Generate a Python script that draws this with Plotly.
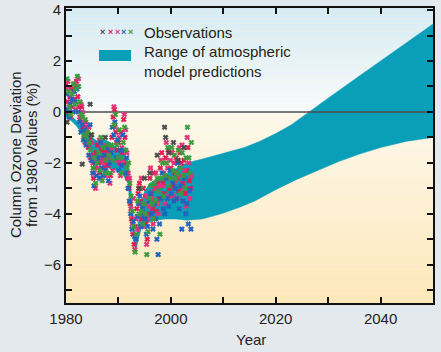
import plotly.graph_objects as go

# ---------------- data ----------------
years_axis = [1980, 1990, 2000, 2010, 2020, 2030, 2040, 2050]
years_labels = ["1980", "", "2000", "", "2020", "", "2040", ""]
y_ticks = [-7, -6, -5, -4, -3, -2, -1, 0, 1, 2, 3, 4]
y_labels = ["", "\u22126", "", "\u22124", "", "\u22122", "", "0", "", "2", "", "4"]

# model prediction range (upper / lower edges)
band_upper_years = [1980, 1981, 1982, 1983, 1984, 1985, 1986, 1987, 1988, 1989, 1990, 1991,
                    1991.8, 1992.4, 1993.0, 1993.3, 1993.6, 1994.2, 1995, 1996, 1998, 2000,
                    2002, 2003, 2006, 2010, 2014, 2017, 2020, 2023, 2026.3, 2030, 2035, 2040,
                    2045, 2050]
band_upper = [0.05, -0.15, -0.35, -0.6, -0.85, -1.0, -1.15, -1.05, -1.15, -1.3, -1.45, -1.6,
              -2.0, -3.0, -4.6, -5.3, -4.6, -3.7, -3.1, -2.8, -2.55, -2.35,
              -2.1, -2.0, -1.85, -1.62, -1.4, -1.15, -0.85, -0.5, 0.0, 0.54, 1.27, 2.0,
              2.72, 3.45]
band_lower_years = [1980, 1981, 1982, 1983, 1984, 1985, 1986, 1987, 1988, 1989, 1990, 1991,
                    1991.8, 1992.5, 1993.0, 1993.3, 1993.7, 1994.3, 1995.5, 1997, 1999, 2001,
                    2003, 2006, 2009.6, 2013, 2016, 2020, 2024, 2028, 2032, 2036, 2040, 2045,
                    2050]
band_lower = [-0.2, -0.35, -0.55, -0.85, -1.25, -1.7, -2.0, -2.1, -2.2, -2.25, -2.35, -2.5,
              -2.8, -4.2, -5.2, -5.45, -5.1, -4.6, -4.35, -4.25, -4.2, -4.2,
              -4.25, -4.2, -4.0, -3.75, -3.5, -3.05, -2.65, -2.3, -1.95, -1.65, -1.4, -1.15,
              -1.0]

# observations: quarterly values 1980.0 ... 2003.75 (4 per year)
obs_start_year = 1980
obs_red = [
    1.1, 0.4, 0.0, 0.6,   0.9, 0.2, 0.5, 1.0,   1.2, 0.6, 0.2, -0.3,  0.2, -0.6, -1.0, -0.4,
    -0.6, -1.4, -1.0, -1.7,  -1.9, -2.6, -2.2, -1.6,  -1.3, -2.0, -2.4, -1.5,  -1.8, -2.2, -1.5, -2.0,
    -2.1, -1.6, -2.5, -1.0,  -0.2, 0.1, -0.8, -1.5,  -1.2, -2.0, -0.8, -1.6,  -0.3, -1.0, -2.0, -2.6,
    -3.0, -3.6, -4.2, -4.8,  -5.2, -4.5, -3.8, -3.2,  -2.8, -3.5, -4.2, -3.0,  -3.6, -4.4, -5.0, -4.0,
    -2.6, -3.2, -3.8, -2.4,  -3.0, -3.9, -2.8, -3.4,  -2.2, -1.6, -2.8, -3.2,  -1.8, -2.6, -1.5, -3.0,
    -2.2, -1.6, -2.9, -2.4,  -1.8, -2.6, -3.1, -1.6,  -2.0, -2.8, -1.9, -3.2,  -2.3, -1.4, -2.7, -3.0,
]
obs_pink = [
    0.9, 1.2, 0.3, -0.2,  0.4, 0.8, 1.1, 0.1,  1.0, 1.3, -0.2, 0.3,  0.0, -0.4, -1.2, -0.8,
    -1.3, -0.6, -1.8, -1.2,  -2.0, -2.4, -3.0, -1.8,  -2.2, -1.1, -2.6, -1.9,  -2.0, -1.3, -2.5, -1.7,
    -1.9, -2.8, -1.4, -2.3,  0.2, -0.6, -1.2, -1.9,  -1.0, -2.5, -1.4, -1.9,  -0.1, -0.7, -1.6, -2.4,
    -2.6, -3.8, -4.4, -3.4,  -5.4, -4.2, -4.6, -3.0,  -3.6, -2.6, -4.0, -4.5,  -3.3, -5.2, -4.2, -3.7,
    -2.2, -3.4, -4.4, -3.0,  -2.4, -3.6, -4.0, -2.9,  -1.9, -2.9, -2.4, -3.6,  -1.2, -2.2, -3.3, -1.9,
    -1.6, -3.3, -2.0, -2.7,  -2.0, -3.4, -1.4, -2.5,  -1.3, -3.0, -2.3, -3.7,  -1.0, -2.0, -3.4, -2.5,
]
obs_blue = [
    0.7, 0.1, -0.2, 0.3,  0.5, 0.0, 0.8, 0.4,  0.9, 0.0, -0.4, -0.8,  -0.5, -1.1, -0.7, -1.3,
    -1.1, -1.7, -0.5, -1.9,  -2.4, -2.9, -2.0, -2.5,  -1.8, -2.6, -1.2, -2.2,  -2.5, -1.7, -2.3, -1.4,
    -2.7, -2.0, -1.6, -0.6,  -0.9, -0.4, -1.8, -1.1,  -2.3, -1.5, -2.1, -0.9,  -1.5, -2.4, -1.8, -3.0,
    -3.5, -4.0, -4.6, -4.3,  -4.9, -5.0, -4.1, -3.6,  -3.3, -4.5, -3.8, -4.1,  -4.2, -4.8, -4.5, -3.5,
    -3.2, -4.0, -4.6, -3.6,  -4.2, -5.0, -5.6, -4.4,  -3.4, -2.4, -3.8, -4.0,  -2.6, -3.4, -3.7, -2.3,
    -3.2, -2.8, -3.5, -3.0,  -3.4, -2.0, -3.8, -2.9,  -4.6, -3.5, -2.6, -4.0,  -3.6, -4.4, -3.1, -4.6,
]
obs_green = [
    1.3, 0.8, 0.2, -0.1,  0.7, 1.1, 0.3, 0.9,  1.4, 1.0, 0.4, -0.1,  -0.2, -0.9, -0.3, -1.0,
    -0.8, -1.2, -1.5, -0.9,  -2.2, -1.8, -2.8, -2.0,  -1.6, -2.3, -1.0, -2.7,  -1.4, -2.4, -1.9, -1.3,
    -1.7, -2.4, -1.3, -1.9,  -0.5, -0.1, -1.3, -1.8,  -0.7, -1.8, -2.4, -1.2,  -0.6, -1.5, -2.2, -2.0,
    -2.8, -3.3, -3.9, -4.5,  -5.5, -4.8, -3.5, -4.0,  -3.0, -3.9, -4.4, -3.6,  -4.0, -5.6, -4.7, -3.4,
    -2.9, -3.6, -4.2, -2.8,  -3.5, -2.6, -3.1, -4.8,  -2.6, -2.0, -3.3, -2.5,  -2.0, -1.4, -2.9, -2.6,
    -1.4, -2.3, -1.7, -2.6,  -2.4, -1.5, -2.2, -3.2,  -1.6, -2.5, -3.0, -1.8,  -0.6, -1.8, -2.4, -1.2,
]
obs_gray_years = [1980.2, 1983.1, 1984.6, 1984.8, 1987.5, 1993.9, 1995.0, 1996.0, 1997.4,
                  1998.8, 1999.0, 1999.6, 2000.5, 2001.4, 2002.5]
obs_gray = [-0.4, -2.05, 0.3, -0.9, -1.0, -3.0, -2.6, -2.4, -1.7,
            -0.6, -1.0, -1.6, -1.2, -1.9, -1.4]

# ---------------- styling ----------------
FONT = "Liberation Sans, Arial, sans-serif"
TXT = "#231f20"
BAND = "#0a9fb8"
RED, PINK, BLUE, GREEN, GRAY = "#e01a52", "#e4307a", "#1f62bf", "#3a9b3c", "#4a4a4a"
Y0, Y1 = -7.5, 4.08


def obs_times(n, month_offset):
    return [obs_start_year + (3 * i + month_offset) / 12.0 for i in range(n)]


fig = go.Figure()

# model range band
fig.add_trace(go.Scatter(
    x=band_upper_years + band_lower_years[::-1],
    y=band_upper + band_lower[::-1],
    fill="toself", fillcolor=BAND, mode="lines",
    line=dict(color=BAND, width=0.5), hoverinfo="skip", showlegend=False))

# zero reference line
fig.add_trace(go.Scatter(x=[years_axis[0], years_axis[-1]], y=[0, 0], mode="lines",
                         line=dict(color="#4d4d4d", width=1.6), showlegend=False,
                         hoverinfo="skip"))

for vals, col, off in [(obs_red, RED, 0), (obs_pink, PINK, 1.5), (obs_blue, BLUE, 1),
                       (obs_green, GREEN, 2)]:
    fig.add_trace(go.Scatter(
        x=obs_times(len(vals), off), y=vals, mode="markers",
        marker=dict(symbol="x", size=4.5, color=col, line=dict(width=0.7, color=col)),
        showlegend=False))
fig.add_trace(go.Scatter(
    x=obs_gray_years, y=obs_gray, mode="markers",
    marker=dict(symbol="x", size=4.5, color=GRAY, line=dict(width=0.7, color=GRAY)),
    showlegend=False))


# background gradient (style only)
def lerp(c1, c2, t):
    a = [int(c1[i:i + 2], 16) for i in (1, 3, 5)]
    b = [int(c2[i:i + 2], 16) for i in (1, 3, 5)]
    return "#%02x%02x%02x" % tuple(round(a[k] + (b[k] - a[k]) * t) for k in range(3))


shapes = []
N = 40
for i in range(N):
    ya = 0 + (Y1 - 0) * i / N
    yb = 0 + (Y1 - 0) * (i + 1) / N
    shapes.append(dict(type="rect", xref="paper", yref="y", x0=0, x1=1, y0=ya, y1=yb,
                       fillcolor=lerp("#f8fbfc", "#d4ebf4", (i + 0.5) / N),
                       line=dict(width=0), layer="below"))
for i in range(N):
    ya = 0 + (Y0 - 0) * i / N
    yb = 0 + (Y0 - 0) * (i + 1) / N
    shapes.append(dict(type="rect", xref="paper", yref="y", x0=0, x1=1, y0=ya, y1=yb,
                       fillcolor=lerp("#fdf9ec", "#fde7b8", (i + 0.5) / N),
                       line=dict(width=0), layer="below"))
# legend swatch for band
shapes.append(dict(type="rect", xref="paper", yref="paper", x0=0.0899, x1=0.1771,
                   y0=0.8203, y1=0.8576, fillcolor=BAND, line=dict(width=0)))

annotations = []
for xp, col in [(0.1008, GRAY), (0.1199, RED), (0.139, PINK), (0.1567, BLUE), (0.1744, GREEN)]:
    annotations.append(dict(xref="paper", yref="paper", x=xp, y=0.9186, text="<b>\u00d7</b>",
                            showarrow=False, font=dict(family=FONT, size=9, color=col),
                            xanchor="center", yanchor="middle"))
annotations += [
    dict(xref="paper", yref="paper", x=0.2071, y=0.9186, text="Observations",
         showarrow=False, xanchor="left", yanchor="middle",
         font=dict(family=FONT, size=15, color=TXT)),
    dict(xref="paper", yref="paper", x=0.2071, y=0.8200,
         text="Range of atmospheric<br>model predictions", align="left",
         showarrow=False, xanchor="left", yanchor="middle",
         font=dict(family=FONT, size=15, color=TXT)),
    dict(xref="paper", yref="paper", x=-0.136, y=0.5017, text="Column Ozone Deviation",
         textangle=-90, showarrow=False, xanchor="center", yanchor="middle",
         font=dict(family=FONT, size=15, color=TXT)),
    dict(xref="paper", yref="paper", x=-0.0925, y=0.5017, text="from 1980 Values (%)",
         textangle=-90, showarrow=False, xanchor="center", yanchor="middle",
         font=dict(family=FONT, size=15, color=TXT)),
    dict(xref="paper", yref="paper", x=0.504, y=-0.1254, text="Year",
         showarrow=False, xanchor="center", yanchor="middle",
         font=dict(family=FONT, size=15, color=TXT)),
]

fig.update_layout(
    width=441, height=352,
    margin=dict(l=66, r=8, t=8, b=49, autoexpand=False),
    paper_bgcolor="#e3e9ed", plot_bgcolor="#fdf3d6",
    shapes=shapes, annotations=annotations,
    showlegend=False,
    font=dict(family=FONT, size=15, color=TXT),
)
fig.update_xaxes(range=[1980, 2050], tickvals=years_axis, ticktext=years_labels,
                 ticks="inside", ticklen=6, tickwidth=1.5, tickcolor="#111",
                 showline=True, linecolor="#111", linewidth=2, mirror="ticks",
                 showgrid=False, zeroline=False, ticklabelstandoff=1, automargin=False,
                 tickfont=dict(family=FONT, size=15, color=TXT))
fig.update_yaxes(range=[Y0, Y1], tickvals=y_ticks, ticktext=y_labels,
                 ticks="inside", ticklen=6, tickwidth=1.5, tickcolor="#111",
                 showline=True, linecolor="#111", linewidth=2, mirror="ticks",
                 showgrid=False, zeroline=False, automargin=False,
                 tickfont=dict(family=FONT, size=15, color=TXT))

fig.write_html("out.html")
